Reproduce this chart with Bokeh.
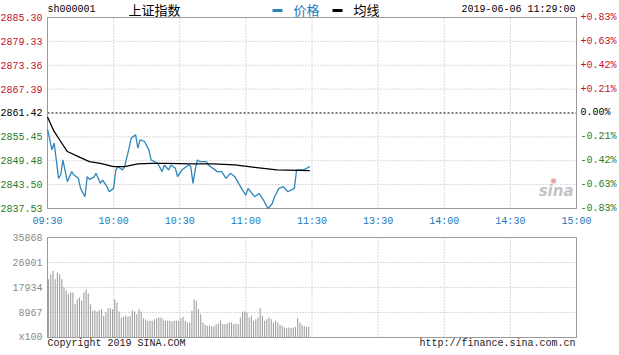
from bokeh.plotting import figure
from bokeh.models import Range1d
from bokeh.embed import file_html
from bokeh.resources import INLINE
from bokeh.core.properties import value

# ---------------- data ----------------
prev_close = 2861.42
price_ticks = [2837.53, 2843.50, 2849.48, 2855.45, 2861.42, 2867.39, 2873.36, 2879.33, 2885.30]
pct_labels = ["-0.83%", "-0.63%", "-0.42%", "-0.21%", "0.00%", "+0.21%", "+0.42%", "+0.63%", "+0.83%"]
time_ticks = [0, 30, 60, 90, 120, 150, 180, 210, 240]
time_labels = ["09:30", "10:00", "10:30", "11:00", "11:30", "13:30", "14:00", "14:30", "15:00"]
vol_ticks = [0, 8967, 17934, 26901, 35868]
vol_labels = ["x100", "8967", "17934", "26901", "35868"]

price_min = [0, 2, 3, 4, 5, 6, 7, 9, 11, 12, 14, 15, 17, 18, 19, 21, 22, 24, 25, 27, 28, 30,
             31, 32, 34, 35, 37, 38, 40, 41, 42, 44, 46, 47, 50, 52, 53, 55, 56, 58, 59, 61,
             62, 64, 65, 66, 67, 68, 69, 72, 73, 77, 79, 81, 83, 85, 88, 90, 91, 94, 96, 98,
             100, 102, 103, 105, 107, 109, 112, 113, 116, 119]
price_val = [2857.39, 2852.20, 2853.87, 2849.68, 2845.07, 2845.91, 2849.68, 2844.23, 2846.75,
             2845.91, 2845.07, 2842.56, 2840.46, 2845.49, 2844.82, 2845.32, 2846.33, 2843.82,
             2844.65, 2842.98, 2841.72, 2842.56, 2847.17, 2848.01, 2847.17, 2848.01, 2852.62,
             2855.13, 2855.97, 2852.62, 2854.71, 2854.29, 2852.20, 2849.68, 2848.84, 2846.75,
             2848.42, 2847.17, 2848.42, 2847.59, 2845.49, 2847.17, 2847.59, 2848.42, 2848.01,
             2843.82, 2847.17, 2849.68, 2849.26, 2849.26, 2848.42, 2846.75, 2846.75, 2845.07,
             2846.33, 2845.49, 2842.56, 2840.88, 2842.56, 2840.46, 2841.30, 2839.62, 2837.53,
             2838.79, 2840.46, 2842.56, 2842.98, 2841.72, 2842.56, 2847.17, 2847.17, 2848.01]

avg_min = [0, 3, 6, 9, 14, 19, 24, 30, 35, 41, 47, 54, 65, 75, 85, 94, 104, 119]
avg_val = [2860.41, 2856.81, 2854.29, 2851.78, 2850.52, 2849.26, 2848.84, 2848.01, 2848.01,
           2848.68, 2848.84, 2848.84, 2848.68, 2848.68, 2848.42, 2847.84, 2847.17, 2847.00]

volume = [20930, 22724, 23920, 20930, 23322, 22724, 20930, 17940, 16744, 15548, 16146, 16146,
          11960, 13754, 14352, 13156, 16146, 17342, 15787, 11960, 9568, 9807, 9329, 9807,
          10166, 7774, 8970, 10525, 10525, 10166, 13754, 12558, 9329, 7176, 7415, 7774,
          7415, 7774, 9807, 9329, 8372, 10166, 9329, 6937, 6458, 5980, 5980, 5980, 6578,
          6817, 7176, 7176, 6578, 5980, 5980, 5980, 5741, 5980, 5980, 5980, 6937, 7415,
          5980, 5382, 5382, 9568, 13634, 13156, 10166, 8372, 5382, 4545, 4186, 4306, 4066,
          4066, 4784, 5023, 5980, 4784, 4784, 5023, 5382, 5382, 4784, 5023, 4784, 7176,
          9329, 9329, 8970, 7176, 7774, 5980, 6578, 7176, 10525, 7774, 5980, 6578, 7176,
          6578, 5382, 5980, 5382, 4545, 4186, 3588, 3349, 3588, 3349, 3588, 3827, 6937,
          5382, 4545, 4066, 3827, 3827]

# ---------------- styling / layout ----------------
MONO = "Liberation Mono"
CJK = "Noto Sans CJK SC"
RED = "#c8102e"
GREEN = "#2a7a2a"
BLUE_TXT = "#1a78b8"
LINE_BLUE = "#2f86bb"
GRID = "#b5b5b5"
BORDER = "#9a9a9a"

W, H = 619, 355
FX0, FX1 = 47, 576          # plot area left/right (px)
PY0, PY1 = 17, 208          # price panel top/bottom (px)
VY0, VY1 = 237, 337         # volume panel top/bottom (px)

t0, t1 = time_ticks[0], time_ticks[-1]
pmin, pmax = price_ticks[0], price_ticks[-1]
vmax = vol_ticks[-1]
ppm = (FX1 - FX0) / (t1 - t0)
ppp = (pmax - pmin) / (PY1 - PY0)
vpp = vmax / (VY1 - VY0)


def py(px):   # screen row -> price units
    return pmax - (px - PY0) * ppp


def vy(px):   # screen row -> volume units
    return vmax - (px - VY0) * vpp


def mx(px):   # screen column -> minutes
    return t0 + (px - FX0) / ppm


p = figure(width=W, height=H, x_range=Range1d(mx(0), mx(W)), y_range=Range1d(py(H), py(0)),
           x_axis_location=None, y_axis_location=None, toolbar_location=None,
           output_backend="svg", min_border=0, outline_line_color=None)
p.extra_y_ranges = {"vol": Range1d(vy(H), vy(0))}
p.xgrid.visible = False
p.ygrid.visible = False
p.background_fill_color = "white"
p.border_fill_color = "white"

# ----- price panel -----
p.segment(x0=time_ticks, x1=time_ticks, y0=[pmin] * len(time_ticks), y1=[pmax] * len(time_ticks),
          line_color=GRID, line_dash="1 2", line_width=1)
gy = [v for v in price_ticks if v != prev_close]
p.segment(x0=[t0] * len(gy), x1=[t1] * len(gy), y0=gy, y1=gy,
          line_color=GRID, line_dash="1 2", line_width=1)
p.segment(x0=[t0], x1=[t1], y0=[prev_close], y1=[prev_close], line_color="black",
          line_dash="2 2", line_width=1)
p.quad(left=[t0], right=[t1], bottom=[pmin], top=[pmax], fill_color=None,
       line_color=BORDER, line_width=1)

p.text(x=[mx(573)], y=[py(190)], text=["sina"], text_font=value("DejaVu Sans"),
       text_font_size="15px", text_font_style="bold italic", text_align="right",
       text_baseline="middle", text_color="#c4c4c4")
p.text(x=[mx(553)], y=[py(180)], text=["◉"], text_font=value("DejaVu Sans"),
       text_font_size="8px", text_align="center", text_baseline="middle", text_color="#e0a0a0")

p.line(price_min, price_val, line_color=LINE_BLUE, line_width=1.3)
p.line(avg_min, avg_val, line_color="black", line_width=1.3)

lab_colors = [RED if v > prev_close else ("black" if v == prev_close else GREEN) for v in price_ticks]
p.text(x=[t0] * len(price_ticks), y=price_ticks, text=[f"{v:.2f}" for v in price_ticks],
       text_color=lab_colors, x_offset=-5, text_align="right", text_baseline="middle",
       text_font=value(MONO), text_font_size="10px")
p.text(x=[t1] * len(price_ticks), y=price_ticks, text=pct_labels,
       text_color=lab_colors, x_offset=4, text_align="left", text_baseline="middle",
       text_font=value(MONO), text_font_size="10px")
p.text(x=time_ticks, y=[py(221)] * len(time_ticks), text=time_labels, text_color=BLUE_TXT,
       text_align="center", text_baseline="middle", text_font=value(MONO), text_font_size="10px")

# header
hy = py(9)
p.text(x=[t0], y=[hy], text=["sh000001"], text_font=value(MONO), text_font_size="10px",
       text_align="left", text_baseline="middle", text_color="black")
p.text(x=[mx(128)], y=[hy], text=["上证指数"], text_font=value(CJK), text_font_size="13px",
       text_align="left", text_baseline="middle", text_color="black")
p.segment(x0=[mx(272)], x1=[mx(282)], y0=[py(10)], y1=[py(10)], line_color=LINE_BLUE,
          line_width=3)
p.text(x=[mx(293)], y=[hy], text=["价格"], text_font=value(CJK), text_font_size="13px",
       text_align="left", text_baseline="middle", text_color=BLUE_TXT)
p.segment(x0=[mx(332)], x1=[mx(342)], y0=[py(10)], y1=[py(10)], line_color="black",
          line_width=3)
p.text(x=[mx(353)], y=[hy], text=["均线"], text_font=value(CJK), text_font_size="13px",
       text_align="left", text_baseline="middle", text_color="black")
p.text(x=[mx(575)], y=[hy], text=["2019-06-06 11:29:00"], text_font=value(MONO),
       text_font_size="10px", text_align="right", text_baseline="middle", text_color="black")

# ----- volume panel -----
p.segment(x0=time_ticks, x1=time_ticks, y0=[0] * len(time_ticks), y1=[vmax] * len(time_ticks),
          line_color=GRID, line_dash="1 2", line_width=1, y_range_name="vol")
p.segment(x0=[t0] * len(vol_ticks), x1=[t1] * len(vol_ticks), y0=vol_ticks, y1=vol_ticks,
          line_color=GRID, line_dash="1 2", line_width=1, y_range_name="vol")
vx = [t0 + i + 0.5 for i in range(len(volume))]
p.vbar(x=vx, top=volume, bottom=0, width=0.5, fill_color="#a0a0a0", line_color=None,
       y_range_name="vol")
p.quad(left=[t0], right=[t1], bottom=[0], top=[vmax], fill_color=None,
       line_color=BORDER, line_width=1, y_range_name="vol")
p.text(x=[t0] * len(vol_ticks), y=vol_ticks, text=vol_labels, x_offset=-5, text_align="right",
       text_baseline="middle", text_font=value(MONO), text_font_size="10px",
       text_color="#8a8a8a", y_range_name="vol")
p.text(x=[t0], y=[vy(343)], text=["Copyright 2019 SINA.COM"], text_font=value(MONO),
       text_font_size="10px", text_align="left", text_baseline="middle", text_color="#222222",
       y_range_name="vol")
p.text(x=[mx(575)], y=[vy(343)], text=["http://finance.sina.com.cn"], text_font=value(MONO),
       text_font_size="10px", text_align="right", text_baseline="middle", text_color="#222222",
       y_range_name="vol")

open("out.html", "w").write(file_html(p, INLINE))
